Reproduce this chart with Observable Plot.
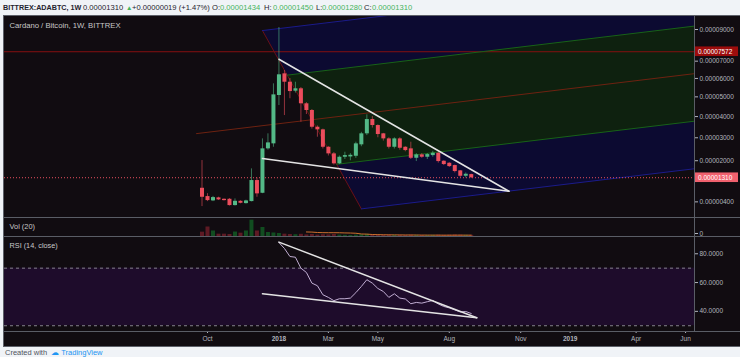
<!DOCTYPE html>
<html>
<head>
<meta charset="utf-8">
<script src="https://cdn.jsdelivr.net/npm/d3@7"></script>
<script src="https://cdn.jsdelivr.net/npm/@observablehq/plot@0.6"></script>
<style>
  html, body { margin:0; padding:0; background:#f0f3f7; width:740px; height:357px; overflow:hidden; font-family:"Liberation Sans", Arial, sans-serif; }
  #wrap { position:relative; width:740px; height:357px; }
  .hd { position:absolute; top:2px; font-size:7.6px; line-height:11px; color:#1e222d; white-space:pre; }
  .g { color:#45b45c; }
  #chart { position:absolute; left:3px; top:15px; width:737px; height:332px; background:#110c11; border-left:1px solid #5d6069; border-top:1px solid #5d6069; border-bottom:1px solid #5d6069; box-sizing:border-box; overflow:hidden; }
  .panel { position:absolute; left:0; }
  .hsep { position:absolute; left:0; width:736px; height:1px; background:#5a5d66; }
  .vsep { position:absolute; left:690px; top:0; width:1px; height:315px; background:#5a5d66; }
  #foot { position:absolute; left:5px; top:348px; font-size:7.5px; line-height:9px; color:#50535e; white-space:pre; }
  #foot b { color:#2196f3; font-weight:normal; }
</style>
</head>
<body>
<div id="wrap">
  <div class="hd" style="left:3px;font-weight:bold;font-size:7.2px">BITTREX:ADABTC, 1W</div>
  <div class="hd" style="left:83px">0.00001310</div>
  <div class="hd g" style="left:126px;font-size:6.5px">▲</div>
  <div class="hd" style="left:132px">+0.00000019 (+1.47%)</div>
  <div class="hd" style="left:212px">O:</div>
  <div class="hd g" style="left:220px">0.00001434</div>
  <div class="hd" style="left:264px">H:</div>
  <div class="hd g" style="left:273px">0.00001450</div>
  <div class="hd" style="left:316px">L:</div>
  <div class="hd g" style="left:322px">0.00001280</div>
  <div class="hd" style="left:364px">C:</div>
  <div class="hd g" style="left:372px">0.00001310</div>
  <div id="chart">
    <div class="panel" id="price" style="top:0"></div>
    <div class="panel" id="vol" style="top:201px"></div>
    <div class="panel" id="rsi" style="top:220px"></div>
    <div class="hsep" style="top:201px"></div>
    <div class="hsep" style="top:220px"></div>
    <div class="hsep" style="top:315px"></div>
    <div class="vsep"></div>
  </div>
  <div id="foot">Created with  <span style="color:#2196f3">☁</span> <b>TradingView</b></div>
</div>
<script>
// ---------- data (prices in satoshi = 1e-8 BTC) ----------
const firstWeek = "2017-09-25";
const lastWeek = "2018-09-03";
const openSats  = [903,593,435,545,494,494,267,421,338,410,1200,715,2507,2727,5070,6260,5790,5300,5430,4640,4300,3487,3365,2577,2290,1870,2146,2160,2188,2683,3180,3855,3568,3180,2950,2577,2950,2577,2507,2103,2247,2146,2217,2317,1978,1894,1800,1584,1368,1434];
const highSats  = [2007,700,600,570,505,520,508,440,460,1665,1300,2950,3180,5700,9135,6450,6000,5790,5500,4700,4350,3550,3400,2600,2350,2200,2360,2300,2800,3250,4085,4000,3600,3200,3000,3000,3000,2600,2800,2300,2300,2300,2400,2360,2000,1920,1820,1600,1500,1450];
const lowSats   = [231,410,410,450,430,250,250,330,320,400,567,700,2450,2577,4550,4050,4900,5200,3726,4100,3400,3025,2500,2200,1820,1840,2050,2000,2100,2600,3100,3450,3000,2850,2500,2500,2450,2380,2050,1965,2100,2050,2150,1900,1800,1720,1500,1320,1300,1280];
const closeSats = [567,446,556,471,446,267,421,349,435,1200,693,2507,2770,5105,6205,5790,5280,5430,4640,4300,3487,3365,2577,2290,1870,2146,2217,2230,2727,3180,3855,3568,3148,2950,2577,2950,2533,2433,2103,2247,2146,2260,2317,1965,1841,1758,1556,1368,1448,1310];
const volume    = [108,238,138,58,58,50,112,83,138,408,138,225,100,88,75,58,50,45,55,40,50,35,45,40,50,35,30,25,35,45,55,40,35,30,35,30,30,25,35,30,25,25,30,35,30,35,40,35,30,30];
const rsiStartWeek = "2018-01-01";
const rsi14 = [87.8,83.7,78.1,77.6,70.0,67.0,59.6,57.8,51.5,49.7,47.4,48.75,48.75,49.2,53.0,57.3,62.0,59.6,55.9,53.8,49.7,52.2,49.2,48.6,45.3,46.2,45.7,46.7,47.6,45.1,43.4,42.4,41.0,39.6,39.9,38.5];

const priceTicks = [9e-5, 7e-5, 6e-5, 5e-5, 4e-5, 3e-5, 2e-5, 4e-6];
const rsiTicks = [80, 60, 40];
const monthTicks = [["2017-10-02","Oct"],["2018-03-05","Mar"],["2018-05-07","May"],["2018-08-06","Aug"],["2018-11-05","Nov"],["2019-04-01","Apr"],["2019-06-03","Jun"]];
const yearTicks = [["2018-01-01","2018"],["2019-01-07","2019"]];

const resistanceLevel = 7.572e-5;
const lastPrice = 1.31e-5;
// drawings: [date, value]
const pitchforkAnchors = [["2017-09-18", 3.19e-5], ["2017-12-11", 8.93e-5], ["2018-04-16", 0.15e-5]];
const priceWedgeUpper = [["2018-01-01", 7.115e-5], ["2018-10-21", 0.79e-5]];
const priceWedgeLower = [["2017-12-11", 2.09e-5], ["2018-10-21", 0.79e-5]];
const rsiWedgeUpper = [["2018-01-01", 88.1], ["2018-09-10", 35.6]];
const rsiWedgeLower = [["2017-12-11", 52.2], ["2018-09-10", 35.6]];

// ---------- scales ----------
const W = 736, MR = 46;
const C = 9.7e-5;
const yDomain = [-0.151e-5, 9.89e-5];
const refDate = Date.UTC(2017, 9, 2);
const msPerPx = 86400000 / 0.785;
const xDomain = [new Date(refDate - 203 * msPerPx), new Date(refDate + 487 * msPerPx)];

const weeks = d3.utcMonday.range(new Date(firstWeek), d3.utcDay.offset(new Date(lastWeek), 1));
const candles = weeks.map((d, i) => ({date: d, open: openSats[i]*1e-8, high: highSats[i]*1e-8, low: lowSats[i]*1e-8, close: closeSats[i]*1e-8, vol: volume[i], up: closeSats[i] >= openSats[i]}));
const upC = candles.filter(d => d.up), dnC = candles.filter(d => !d.up);
const rsiData = rsi14.map((v, i) => ({date: d3.utcWeek.offset(new Date(rsiStartWeek), i), rsi: v}));
const maData = volume.map((v, i) => i < 19 ? null : {date: weeks[i], ma: d3.mean(volume.slice(i - 19, i + 1))}).filter(Boolean);
const seg = arr => arr.map(([d, v]) => ({date: new Date(d), value: v}));

// pitchfork geometry in screen space through Plot's scales
const xs = Plot.scale({x: {type: "utc", domain: xDomain, range: [0, W - MR]}});
const ys = Plot.scale({y: {type: "symlog", constant: C, domain: yDomain, range: [201, 0]}});
const toPx = ([d, v]) => [xs.apply(new Date(d)), ys.apply(v)];
const toData = ([px, py]) => ({date: xs.invert(px), value: ys.invert(py)});
const [pa, pb, pc] = pitchforkAnchors.map(toPx);
const mid = (p, q) => [(p[0] + q[0]) / 2, (p[1] + q[1]) / 2];
const pm = mid(pb, pc);
const dir = [pm[0] - pa[0], pm[1] - pa[1]];
const ext = p => { const k = (730 - p[0]) / dir[0]; return [p[0] + k * dir[0], p[1] + k * dir[1]]; };
const q2 = mid(pm, pb), q3 = mid(pm, pc);
const line2 = (p, q) => [toData(p), toData(q)];
const bluePoly = [pb, ext(pb), ext(pc), pc].map(toData);
const greenPoly = [q2, ext(q2), ext(q3), q3].map(toData);

const font = "'Liberation Sans', Arial, sans-serif";
const style = {background: "transparent", color: "#b2b5be", fontFamily: font, fontSize: "6.5px"};
const svgNS = "http://www.w3.org/2000/svg";
function tag(value, bg, label) {
  return (index, scales, values, dims) => {
    const g = document.createElementNS(svgNS, "g");
    const y = scales.y(value);
    const x0 = dims.width - dims.marginRight + 1;
    const r = document.createElementNS(svgNS, "rect");
    r.setAttribute("x", x0); r.setAttribute("y", y - 4.8); r.setAttribute("width", 43); r.setAttribute("height", 9.6);
    r.setAttribute("style", `fill:${bg};stroke:none`);
    const t = document.createElementNS(svgNS, "text");
    t.setAttribute("x", x0 + 3); t.setAttribute("y", y); t.setAttribute("dy", "0.35em");
    t.setAttribute("text-anchor", "start");
    t.setAttribute("style", `fill:#ffffff;stroke:none;text-anchor:start;font-size:6.5px;font-family:${font}`);
    t.textContent = label;
    g.append(r, t);
    return g;
  };
}
const upCol = "#53b987", dnCol = "#eb4d5c";

const price = Plot.plot({
  width: W, height: 201, marginLeft: 0, marginRight: MR, marginTop: 0, marginBottom: 0, style,
  x: {type: "utc", domain: xDomain, axis: null},
  y: {type: "symlog", constant: C, domain: yDomain},
  marks: [
    Plot.line(bluePoly, {x: "date", y: "value", fill: "#0c0a31", stroke: "none", clip: true}),
    Plot.line(greenPoly, {x: "date", y: "value", fill: "#0e210f", stroke: "none", clip: true}),
    Plot.ruleY([resistanceLevel], {stroke: "#861010", strokeWidth: 1}),
    Plot.line(line2(pb, pc), {x: "date", y: "value", stroke: "#6a1016", strokeWidth: 1, clip: true}),
    Plot.line(line2(pa, ext(pa)), {x: "date", y: "value", stroke: "#6e2211", strokeWidth: 1, clip: true}),
    Plot.line(line2(q2, ext(q2)), {x: "date", y: "value", stroke: "#186218", strokeWidth: 1, clip: true}),
    Plot.line(line2(q3, ext(q3)), {x: "date", y: "value", stroke: "#186218", strokeWidth: 1, clip: true}),
    Plot.line(line2(pb, ext(pb)), {x: "date", y: "value", stroke: "#1b1b8a", strokeWidth: 1, clip: true}),
    Plot.line(line2(pc, ext(pc)), {x: "date", y: "value", stroke: "#1b1b8a", strokeWidth: 1, clip: true}),
    Plot.ruleY([lastPrice], {stroke: "#e8505f", strokeDasharray: "1,2", strokeWidth: 1}),
    Plot.ruleX(upC, {x: "date", y1: "low", y2: "high", stroke: upCol, strokeOpacity: 0.6}),
    Plot.ruleX(dnC, {x: "date", y1: "low", y2: "high", stroke: dnCol, strokeOpacity: 0.6}),
    Plot.ruleX(upC, {x: "date", y1: "open", y2: "close", stroke: upCol, strokeWidth: 4}),
    Plot.ruleX(dnC, {x: "date", y1: "open", y2: "close", stroke: dnCol, strokeWidth: 4}),
    Plot.line(seg(priceWedgeUpper), {x: "date", y: "value", stroke: "#e4e4e4", strokeWidth: 1.5}),
    Plot.line(seg(priceWedgeLower), {x: "date", y: "value", stroke: "#e4e4e4", strokeWidth: 1.5}),
    Plot.text(["Cardano / Bitcoin, 1W, BITTREX"], {frameAnchor: "top-left", dx: 5, dy: 6, fill: "#c8c8c8", fontSize: 7.7}),
    Plot.axisY({anchor: "right", ticks: priceTicks, tickFormat: d => d.toFixed(8), tickSize: 3, tickPadding: 2, color: "#b2b5be", label: null, fontSize: 6.5}),
    tag(resistanceLevel, "#9c0c0c", "0.00007572"),
    tag(lastPrice, "#f0616e", "0.00001310")
  ]
});
document.getElementById("price").append(price);

const vol = Plot.plot({
  width: W, height: 19, marginLeft: 0, marginRight: MR, marginTop: 0, marginBottom: 0, style,
  x: {type: "utc", domain: xDomain, axis: null},
  y: {domain: [0, 475]},
  marks: [
    Plot.ruleX(candles.filter(d => d.up), {x: "date", y1: 0, y2: "vol", stroke: "#114d20", strokeWidth: 4}),
    Plot.ruleX(candles.filter(d => !d.up), {x: "date", y1: 0, y2: "vol", stroke: "#5e1a24", strokeWidth: 4}),
    Plot.line(maData, {x: "date", y: "ma", stroke: "#cd6f2d", strokeWidth: 1}),
    Plot.text(["Vol (20)"], {frameAnchor: "left", dx: 5, fill: "#c8c8c8", fontSize: 7.4}),
    Plot.axisY({anchor: "right", ticks: [0], tickFormat: d => "0", tickSize: 3, tickPadding: 2, dy: -3, color: "#b2b5be", label: null, fontSize: 6.5})
  ]
});
document.getElementById("vol").append(vol);

const monthMap = new Map(monthTicks.map(([d, l]) => [+new Date(d), l]));
const yearMap = new Map(yearTicks.map(([d, l]) => [+new Date(d), l]));
const rsiPlot = Plot.plot({
  width: W, height: 110, marginLeft: 0, marginRight: MR, marginTop: 0, marginBottom: 15, style,
  x: {type: "utc", domain: xDomain},
  y: {domain: [26, 92]},
  marks: [
    Plot.rect([0], {x1: () => xDomain[0], x2: () => xDomain[1], y1: () => 30, y2: () => 70, fill: "#1e0c2b"}),
    Plot.ruleY([30, 70], {stroke: "#85828c", strokeDasharray: "3,3", strokeWidth: 1}),
    Plot.line(rsiData, {x: "date", y: "rsi", stroke: "#c1aed3", strokeWidth: 1}),
    Plot.line(seg(rsiWedgeUpper), {x: "date", y: "value", stroke: "#e4e4e4", strokeWidth: 1.5}),
    Plot.line(seg(rsiWedgeLower), {x: "date", y: "value", stroke: "#e4e4e4", strokeWidth: 1.5}),
    Plot.text(["RSI (14, close)"], {frameAnchor: "top-left", dx: 5, dy: 6.5, fill: "#c8c8c8", fontSize: 7.3}),
    Plot.axisY({anchor: "right", ticks: rsiTicks, tickFormat: d => d.toFixed(4), tickSize: 3, tickPadding: 2, color: "#b2b5be", label: null, fontSize: 6.5}),
    Plot.axisX({ticks: monthTicks.map(([d]) => new Date(d)), tickFormat: d => monthMap.get(+d), tickSize: 2, tickPadding: 3, color: "#b2b5be", label: null, fontSize: 6.5}),
    Plot.axisX({ticks: yearTicks.map(([d]) => new Date(d)), tickFormat: d => yearMap.get(+d), tickSize: 2, tickPadding: 3, color: "#b2b5be", label: null, fontSize: 6.5, fontWeight: "bold"})
  ]
});
document.getElementById("rsi").append(rsiPlot);
</script>
</body>
</html>
